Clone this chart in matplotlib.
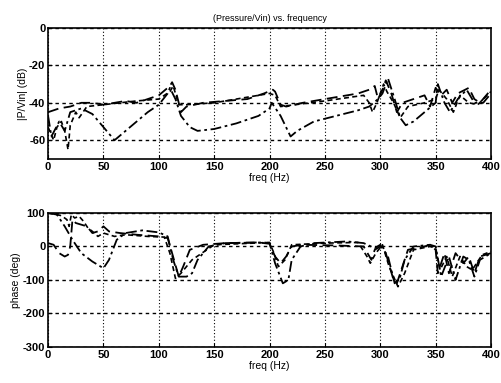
import matplotlib
matplotlib.use("Agg")
import matplotlib.pyplot as plt

# magnitude curves (dB)
fa = [0, 5, 10, 20, 25, 30, 40, 50, 60, 70, 80, 90, 100, 106, 110, 112, 115, 118, 120, 125,
      140, 160, 180, 195, 203, 205, 210, 215, 230, 250, 270, 280, 290, 295, 298, 302, 305,
      310, 315, 320, 330, 340, 345, 350, 355, 360, 365, 370, 380, 385, 390, 400]
ma = [-45, -44, -43, -42, -41, -40, -40, -41, -40, -39, -40, -38, -36, -33, -31, -29, -33, -40, -45, -42,
      -40, -39, -38, -35, -33, -34, -41, -42, -40, -38, -36, -35, -33, -31, -38, -33, -28,
      -35, -45, -40, -38, -36, -42, -32, -36, -33, -40, -35, -32, -38, -40, -33]

fb = [0, 3, 10, 15, 20, 30, 40, 50, 60, 70, 80, 90, 100, 108, 110, 115, 120, 128, 135, 150,
      170, 190, 200, 202, 210, 219, 225, 240, 260, 280, 290, 298, 302, 307, 313, 318, 323,
      330, 340, 350, 352, 358, 363, 370, 378, 385, 393, 400]
mb = [-47, -58, -50, -55, -45, -43, -46, -53, -60, -55, -50, -45, -41, -35, -32, -38, -47, -53, -55, -54,
      -51, -47, -43, -40, -47, -58, -55, -50, -47, -44, -42, -38, -35, -27, -38, -48, -52,
      -50, -45, -40, -30, -40, -45, -38, -33, -40, -40, -35]

fc = [0, 5, 8, 12, 15, 18, 20, 25, 28, 35, 50, 80, 100, 110, 113, 118, 125, 150, 200, 205,
      210, 250, 285, 290, 293, 297, 303, 306, 312, 318, 325, 340, 350, 353, 360, 366, 372,
      380, 388, 400]
mc = [-53, -60, -53, -50, -55, -65, -52, -45, -48, -42, -41, -39, -38, -34, -31, -41, -41, -40, -35, -36,
      -42, -39, -36, -40, -45, -40, -30, -34, -40, -48, -42, -40, -38, -33, -38, -45, -36,
      -40, -41, -34]

# phase curves (deg)
pa_f = [0, 5, 10, 15, 18, 20, 22, 25, 35, 40, 45, 50, 55, 65, 80, 100, 108, 112, 118, 122, 128,
        140, 160, 190, 200, 205, 210, 215, 220, 230, 260, 285, 292, 295, 300, 305, 312, 315,
        320, 325, 340, 345, 350, 352, 358, 362, 368, 375, 380, 385, 390, 400]
pa = [10, 5, -20, -30, -25, 0, 80, 70, 60, 40, 45, 60, 45, 40, 35, 30, 25, -20, -90, -60, -10,
      5, 10, 12, 8, -30, -50, -30, 0, 5, 3, 0, -40, -10, 0, -20, -100, -110,
      -60, -10, 0, 5, -10, -80, -20, -80, -20, -50, -30, -80, -30, -20]

pb_f = [0, 8, 15, 22, 30, 40, 50, 55, 62, 70, 85, 100, 108, 113, 118, 125, 130, 135, 145, 160,
        195, 200, 205, 212, 217, 220, 228, 240, 270, 285, 295, 300, 307, 313, 318, 322, 330,
        345, 350, 355, 362, 368, 375, 380, 385, 390, 400]
pb = [100, 95, 60, 20, -20, -45, -65, -40, 20, 40, 48, 42, 30, -40, -90, -90, -80, -40, 0, 10,
      12, 10, -50, -110, -100, -40, 0, 10, 15, 10, -5, 5, -30, -110, -90, -40, 0,
      5, 0, -90, -30, -100, -30, -40, -90, -40, -20]

pc_f = [0, 3, 8, 12, 17, 19, 21, 24, 28, 32, 36, 40, 45, 50, 60, 70, 90, 105, 110, 115, 120,
        130, 150, 200, 204, 208, 214, 220, 250, 280, 288, 291, 296, 302, 308, 316, 322, 330,
        345, 350, 354, 360, 365, 372, 378, 383, 392, 400]
pc = [100, 98, 95, 92, 80, 60, 95, 85, 90, 75, 55, 45, 30, 40, 30, 35, 30, 28, -20, -95, -80,
      -40, 5, 12, -20, -60, -40, 5, 10, 12, -30, -50, -20, 5, -60, -120, -80, -10,
      0, -5, -70, -30, -90, -30, -60, -70, -25, -15]

plt.rcParams['font.family'] = 'Liberation Sans'
plt.rcParams['font.weight'] = 'bold'
plt.rcParams['font.size'] = 7.5
plt.rcParams['axes.unicode_minus'] = False

fig = plt.figure(figsize=(5.01, 3.83), dpi=100)
ax1 = fig.add_axes([0.096, 0.585, 0.884, 0.342])
ax2 = fig.add_axes([0.096, 0.094, 0.884, 0.350])

ax1.plot(fa, ma, color='black', lw=1.3, dashes=(6, 3))
ax1.plot(fb, mb, color='black', lw=1.3, dashes=(6, 2, 1.5, 2))
ax1.plot(fc, mc, color='black', lw=1.2, dashes=(3, 2))
ax1.set_xlim(0, 400)
ax1.set_ylim(-70, 0)
ax1.set_yticks([0, -20, -40, -60])
ax1.set_xticks(range(0, 401, 50))
ax1.set_ylabel('|P/Vin| (dB)', labelpad=1)
ax1.set_xlabel('freq (Hz)', labelpad=1)
ax1.set_title('(Pressure/Vin) vs. frequency', fontsize=6.5, pad=5)

ax2.plot(pa_f, pa, color='black', lw=1.3, dashes=(6, 3))
ax2.plot(pb_f, pb, color='black', lw=1.3, dashes=(6, 2, 1.5, 2))
ax2.plot(pc_f, pc, color='black', lw=1.2, dashes=(3, 2))
ax2.set_xlim(0, 400)
ax2.set_ylim(-300, 100)
ax2.set_yticks([100, 0, -100, -200, -300])
ax2.set_xticks(range(0, 401, 50))
ax2.set_ylabel('phase (deg)', labelpad=1)
ax2.set_xlabel('freq (Hz)', labelpad=1)

for ax in (ax1, ax2):
    ax.yaxis.grid(True, color='black', lw=1.0, dashes=(2.5, 2.5))
    ax.xaxis.grid(True, color='black', lw=0.8, dashes=(1, 2))
    ax.tick_params(direction='in', length=3, pad=2, labelsize=8)
    for s in ax.spines.values():
        s.set_linewidth(1.2)

fig.savefig("out.png", dpi=100)
